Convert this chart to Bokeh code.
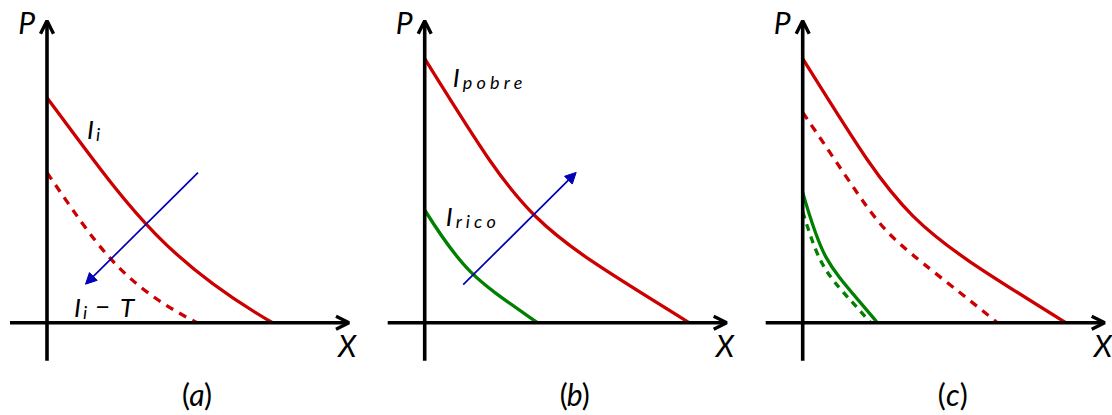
from bokeh.plotting import figure
from bokeh.layouts import row
from bokeh.models import Range1d, Arrow, OpenHead, NormalHead, Label
from bokeh.embed import file_html
from bokeh.resources import INLINE

# Each curve is a cubic Bezier: start on the P axis, end on the X axis,
# two control points in between.  Units are (X, P).

# panel (a): I_i (solid) and I_i - T (dashed)
a_start_P = [225, 150]
a_end_X = [225.5, 150]
a_ctrl1 = [(78, 121), (50, 78)]
a_ctrl2 = [(113, 65), (72, 40)]
a_shift_from = (151, 150)
a_shift_to = (38.5, 38.5)

# panel (b): I_pobre (red) and I_rico (green)
b_start_P = [264, 112.7]
b_end_X = [264.5, 112.7]
b_ctrl1 = [(103.4, 98.6), (39.8, 49.1)]
b_ctrl2 = [(98.7, 102.2), (51.2, 43.0)]
b_shift_from = (38.5, 38)
b_shift_to = (151.5, 150.3)

# panel (c): red before/after (solid/dashed), green before/after (solid/dashed)
c_start_P = [264, 210.3, 130.3, 111]
c_end_X = [263, 194.7, 74.7, 68]
c_ctrl1 = [(103.4, 98.6), (98.9, 65.9), (21.3, 56.3), (19.4, 48.4)]
c_ctrl2 = [(98.7, 102.2), (58.7, 110.1), (25.2, 59.0), (22.9, 50.7)]

RED = "#cc0000"
GREEN = "#008000"
BLUE = "#0000b4"
INK = "#000000"
FONT = "Lato"

X_AXIS = (-37, 302)
Y_AXIS = (-38, 302)
ORIGIN_Y_PX = 322.2
HEIGHT = 415
LIFT = 10  # raises alphabetic-baseline labels onto their intended baseline


def panel(width, origin_x_px):
    p = figure(width=width, height=HEIGHT, output_backend="svg",
               toolbar_location=None, x_axis_type=None, y_axis_type=None,
               x_range=Range1d(-origin_x_px, width - origin_x_px),
               y_range=Range1d(-(HEIGHT - ORIGIN_Y_PX), ORIGIN_Y_PX),
               min_border=0, outline_line_color=None,
               background_fill_color="white", border_fill_color="white")
    p.grid.visible = False
    # coordinate axes with open arrow tips
    for (xs, ys, xe, ye) in [(X_AXIS[0], 0, X_AXIS[1], 0), (0, Y_AXIS[0], 0, Y_AXIS[1])]:
        p.add_layout(Arrow(x_start=xs, y_start=ys, x_end=xe, y_end=ye,
                           line_color=INK, line_width=3.6,
                           end=OpenHead(size=13, line_width=3.4, line_color=INK)))
    p.add_layout(Label(x=0, y=Y_AXIS[1], text="P", text_font=FONT,
                       text_font_style="italic", text_font_size="30px",
                       text_color=INK, text_align="right", x_offset=-12,
                       y_offset=-1, text_baseline="alphabetic"))
    p.add_layout(Label(x=X_AXIS[1], y=0, text="X", text_font=FONT,
                       text_font_style="italic", text_font_size="30px",
                       text_color=INK, text_align="left", x_offset=-11,
                       y_offset=-22, text_baseline="alphabetic"))
    return p


def curve(p, start_P, end_X, c1, c2, color, dash="solid"):
    p.bezier(x0=0, y0=start_P, x1=end_X, y1=0,
             cx0=c1[0], cy0=c1[1], cx1=c2[0], cy1=c2[1],
             line_color=color, line_width=3.3, line_dash=dash)


def shift_arrow(p, frm, to):
    p.add_layout(Arrow(x_start=frm[0], y_start=frm[1], x_end=to[0], y_end=to[1],
                       line_color=BLUE, line_width=1.7,
                       end=NormalHead(size=11, fill_color=BLUE, line_color=BLUE,
                                      line_width=1)))


def caption(p, letter):
    base = dict(x=150, y=-71, text_font=FONT, text_font_size="30px",
                text_color=INK, text_baseline="middle")
    p.add_layout(Label(text="(", text_align="right", x_offset=-7, **base))
    p.add_layout(Label(text=letter, text_align="center", text_font_style="italic",
                       **base))
    p.add_layout(Label(text=")", text_align="left", x_offset=7, **base))


def word(p, x, y, text, size, dx=0, dy=0):
    p.add_layout(Label(x=x, y=y, x_offset=dx, y_offset=dy + LIFT, text=text,
                       text_font=FONT, text_font_style="italic",
                       text_font_size=f"{size}px", text_color=INK,
                       text_baseline="alphabetic"))


def name(p, x, y, sub, sub_dx=9):
    word(p, x, y, "I", 26)
    word(p, x, y, sub, 18, dx=sub_dx, dy=-5)


# (a)
pa = panel(370, 46.5)
curve(pa, a_start_P[0], a_end_X[0], a_ctrl1[0], a_ctrl2[0], RED)
curve(pa, a_start_P[1], a_end_X[1], a_ctrl1[1], a_ctrl2[1], RED, "8 7")
shift_arrow(pa, a_shift_from, a_shift_to)
name(pa, 40, 184, "i")
name(pa, 27, 6, "i")
word(pa, 27, 6, "\u2212", 26, dx=21)
word(pa, 27, 6, "T", 26, dx=46)
caption(pa, "a")

# (b)
pb = panel(370, 54.2)
curve(pb, b_start_P[0], b_end_X[0], b_ctrl1[0], b_ctrl2[0], RED)
curve(pb, b_start_P[1], b_end_X[1], b_ctrl1[1], b_ctrl2[1], GREEN)
shift_arrow(pb, b_shift_from, b_shift_to)
name(pb, 28, 236, "p o b r e", sub_dx=10)
name(pb, 21, 97, "r i c o", sub_dx=10)
caption(pb, "b")

# (c)
pc = panel(372, 62.2)
curve(pc, c_start_P[0], c_end_X[0], c_ctrl1[0], c_ctrl2[0], RED)
curve(pc, c_start_P[1], c_end_X[1], c_ctrl1[1], c_ctrl2[1], RED, "8 7")
curve(pc, c_start_P[2], c_end_X[2], c_ctrl1[2], c_ctrl2[2], GREEN)
curve(pc, c_start_P[3], c_end_X[3], c_ctrl1[3], c_ctrl2[3], GREEN, "7 6")
caption(pc, "c")

layout = row(pa, pb, pc, spacing=0)
open("out.html", "w").write(file_html(layout, INLINE))
